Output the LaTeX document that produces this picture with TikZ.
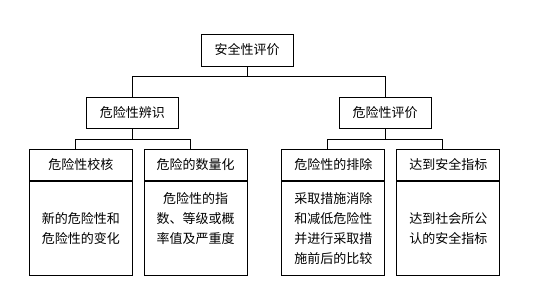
\documentclass[tikz,border=0pt]{standalone}
\usepackage{fontspec}
\newfontfamily\cjk{Noto Sans CJK SC}
\usetikzlibrary{positioning}
\tikzset{
  font=\cjk\fontsize{13pt}{20pt}\selectfont,
  topbox/.style={rectangle, draw=black, line width=1pt, align=center,
                 minimum width=92pt, minimum height=32pt, inner sep=0pt},
  midbox/.style={rectangle, draw=black, line width=1pt, align=center,
                 minimum width=92pt, minimum height=31pt, inner sep=0pt},
  headbox/.style={rectangle, draw=black, line width=1pt, align=center,
                  minimum width=103pt, minimum height=31pt, inner sep=0pt},
  bodybox/.style={rectangle, draw=black, line width=1pt, align=center,
                  minimum width=103pt, minimum height=94pt, inner sep=0pt},
  link/.style={draw=black, line width=1pt},
}
\begin{document}
\begin{tikzpicture}[x=1pt, y=-1pt]
  \useasboundingbox (0,0) rectangle (546,298);

  % --- top and second level ---
  \node[topbox] (safe)   at (247,50)      {安全性评价};
  \node[midbox] (ident)  at (132.3,112.8) {危险性辨识};
  \node[midbox] (assess) at (385.2,112.8) {危险性评价};

  % --- bottom level: header over body ---
  \node[headbox] (check)  at (80.8,164.8)  {危险性校核};
  \node[headbox] (quant)  at (195.7,164.8) {危险的数量化};
  \node[headbox] (elim)   at (333.3,164.8) {危险性的排除};
  \node[headbox] (target) at (448.3,164.8) {达到安全指标};
  \node[bodybox, below=0pt of check]  (checkb)  {新的危险性和\\危险性的变化};
  \node[bodybox, below=0pt of quant]  (quantb)  {危险性的指\\数、等级或概\\率值及严重度\\\mbox{}};
  \node[bodybox, below=0pt of elim]   (elimb)   {采取措施消除\\和减低危险性\\并进行采取措\\施前后的比较};
  \node[bodybox, below=0pt of target] (targetb) {达到社会所公\\认的安全指标};

  % --- connectors ---
  \draw[link] (safe.south) -- ++(0,10.3) coordinate (jt);
  \draw[link] (ident.north) |- (jt) -| (assess.north);
  \draw[link] (ident.south) -- ++(0,11) coordinate (jl);
  \draw[link] ([xshift=-5.5pt]check.north) |- (jl) -| ([xshift=-5.5pt]quant.north);
  \draw[link] (assess.south) -- ++(0,11) coordinate (jr);
  \draw[link] ([xshift=-5.5pt]elim.north) |- (jr) -| ([xshift=-5.5pt]target.north);
\end{tikzpicture}
\end{document}
